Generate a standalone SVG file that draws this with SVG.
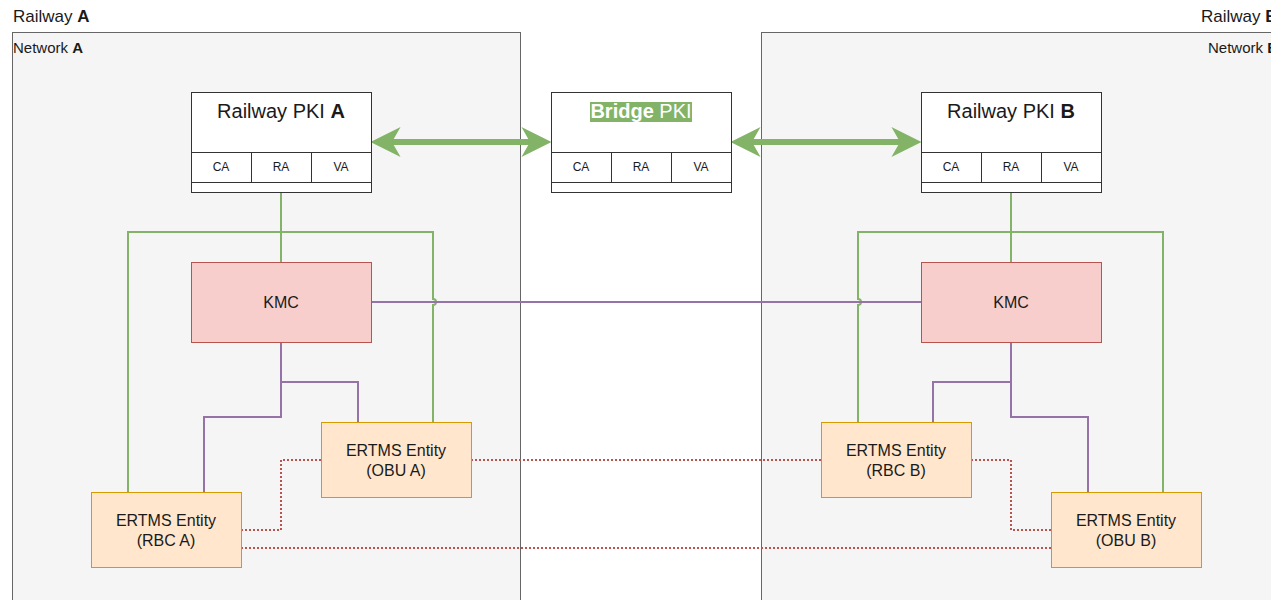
<svg xmlns="http://www.w3.org/2000/svg" width="1271" height="600" viewBox="0 0 1271 600">
<style>
text{font-family:"Liberation Sans",Arial,sans-serif;fill:#1a1a1a}
.net{fill:#f5f5f5;stroke:#666;stroke-width:1}
.pki{fill:#fff;stroke:#333;stroke-width:1}
.kmc{fill:#f8cecc;stroke:#b85450;stroke-width:1}
.ent{fill:#ffe6cc;stroke:#d79b00;stroke-width:1}
.g{fill:none;stroke:#82b366;stroke-width:2}
.p{fill:none;stroke:#9673a6;stroke-width:2}
.d{fill:none;stroke:#b85450;stroke-width:2;stroke-dasharray:2 2}
.big{fill:none;stroke:#82b366;stroke-width:6}
.c{text-anchor:middle}
</style>
<defs>
<marker id="ah" markerUnits="userSpaceOnUse" markerWidth="30" markerHeight="30" viewBox="0 0 28 28" refX="8" refY="14" orient="auto-start-reverse">
<path d="M0,0 L28,14 L0,28 L8,14 Z" fill="#82b366"/>
</marker>
</defs>
<rect width="1271" height="600" fill="#fff"/>
<g id="networkA">
<text x="13" y="22" font-size="17">Railway <tspan font-weight="bold">A</tspan></text>
<rect class="net" x="12.5" y="32.5" width="508" height="580"/>
<text x="13" y="53" font-size="15" fill="#333">Network <tspan font-weight="bold">A</tspan></text>
</g>
<g id="networkB">
<text x="1201" y="22" font-size="17">Railway <tspan font-weight="bold">B</tspan></text>
<rect class="net" x="761.5" y="32.5" width="600" height="580"/>
<text x="1208" y="53" font-size="15" fill="#333">Network <tspan font-weight="bold">B</tspan></text>
</g>
<g id="connectors">
<line class="big" x1="392" y1="142" x2="530" y2="142" marker-start="url(#ah)" marker-end="url(#ah)"/>
<line class="big" x1="752" y1="142" x2="900" y2="142" marker-start="url(#ah)" marker-end="url(#ah)"/>
<path class="g" d="M281,192 L281,262"/>
<path class="g" d="M128,492 L128,232 L433,232 L433,299 A3,3 0 0 1 433,305 L433,422"/>
<path class="g" d="M1011,192 L1011,262"/>
<path class="g" d="M858,422 L858,305 A3,3 0 0 0 858,299 L858,232 L1163,232 L1163,492"/>
<path class="p" d="M371,302 L921,302"/>
<path class="p" d="M281,342 L281,382 L358,382 L358,422"/>
<path class="p" d="M281,382 L281,417 L204,417 L204,492"/>
<path class="p" d="M1011,342 L1011,382 L933,382 L933,422"/>
<path class="p" d="M1011,382 L1011,417 L1088,417 L1088,492"/>
<path class="d" d="M321,460 L281,460 L281,530 L241,530"/>
<path class="d" d="M241,548 L1051,548"/>
<path class="d" d="M471,460 L821,460"/>
<path class="d" d="M971,460 L1011,460 L1011,530 L1051,530"/>
</g>
<g id="pkiA">
<rect class="pki" x="191.5" y="92.5" width="180" height="100"/>
<path class="pki" d="M191.5,152.5 H371.5 M191.5,182.5 H371.5 M251.5,152.5 V182.5 M311.5,152.5 V182.5"/>
<text class="c" x="281" y="118" font-size="20">Railway PKI <tspan font-weight="bold">A</tspan></text>
<text class="c" x="221" y="171" font-size="12">CA</text>
<text class="c" x="281" y="171" font-size="12">RA</text>
<text class="c" x="341" y="171" font-size="12">VA</text>
</g>
<g id="bridgePki">
<rect class="pki" x="551.5" y="92.5" width="180" height="100"/>
<path class="pki" d="M551.5,152.5 H731.5 M551.5,182.5 H731.5 M611.5,152.5 V182.5 M671.5,152.5 V182.5"/>
<rect x="590" y="102" width="102" height="20" fill="#82b366"/>
<text class="c" x="641" y="118" font-size="20" fill="#fff" style="fill:#fff"><tspan font-weight="bold">Bridge</tspan> PKI</text>
<text class="c" x="581" y="171" font-size="12">CA</text>
<text class="c" x="641" y="171" font-size="12">RA</text>
<text class="c" x="701" y="171" font-size="12">VA</text>
</g>
<g id="pkiB">
<rect class="pki" x="921.5" y="92.5" width="180" height="100"/>
<path class="pki" d="M921.5,152.5 H1101.5 M921.5,182.5 H1101.5 M981.5,152.5 V182.5 M1041.5,152.5 V182.5"/>
<text class="c" x="1011" y="118" font-size="20">Railway PKI <tspan font-weight="bold">B</tspan></text>
<text class="c" x="951" y="171" font-size="12">CA</text>
<text class="c" x="1011" y="171" font-size="12">RA</text>
<text class="c" x="1071" y="171" font-size="12">VA</text>
</g>
<g id="kmcA">
<rect class="kmc" x="191.5" y="262.5" width="180" height="80"/>
<text class="c" x="281" y="308" font-size="16">KMC</text>
</g>
<g id="kmcB">
<rect class="kmc" x="921.5" y="262.5" width="180" height="80"/>
<text class="c" x="1011" y="308" font-size="16">KMC</text>
</g>
<g id="obuA">
<rect class="ent" x="321.5" y="422.5" width="150" height="75"/>
<text class="c" x="396" y="456" font-size="16">ERTMS Entity</text>
<text class="c" x="396" y="476" font-size="16">(OBU A)</text>
</g>
<g id="rbcA">
<rect class="ent" x="91.5" y="492.5" width="150" height="75"/>
<text class="c" x="166" y="526" font-size="16">ERTMS Entity</text>
<text class="c" x="166" y="546" font-size="16">(RBC A)</text>
</g>
<g id="rbcB">
<rect class="ent" x="821.5" y="422.5" width="150" height="75"/>
<text class="c" x="896" y="456" font-size="16">ERTMS Entity</text>
<text class="c" x="896" y="476" font-size="16">(RBC B)</text>
</g>
<g id="obuB">
<rect class="ent" x="1051.5" y="492.5" width="150" height="75"/>
<text class="c" x="1126" y="526" font-size="16">ERTMS Entity</text>
<text class="c" x="1126" y="546" font-size="16">(OBU B)</text>
</g>
</svg>
